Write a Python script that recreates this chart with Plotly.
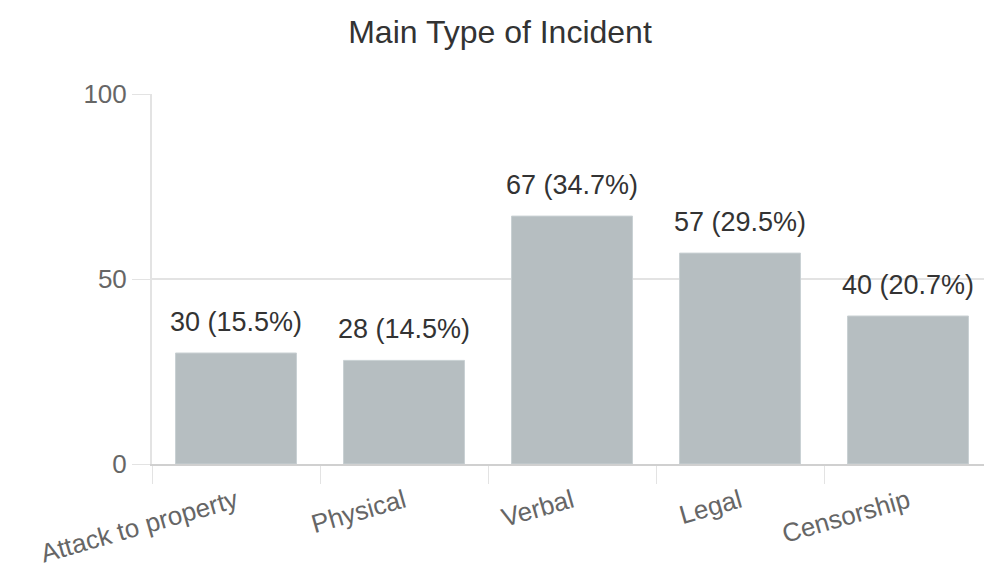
import plotly.graph_objects as go

categories = ["Attack to property", "Physical", "Verbal", "Legal", "Censorship"]
counts = [30, 28, 67, 57, 40]
percents = [15.5, 14.5, 34.7, 29.5, 20.7]

FONT = "Liberation Sans, Arial, sans-serif"

fig = go.Figure()
fig.add_trace(
    go.Bar(
        x=categories,
        y=counts,
        width=0.72,
        marker=dict(color="#b6bec1", line=dict(color="#c9d0d3", width=1)),
        hoverinfo="skip",
    )
)

# value labels above bars
for cat, n, p in zip(categories, counts, percents):
    fig.add_annotation(
        x=cat,
        y=n,
        text=f"{n} ({p}%)",
        showarrow=False,
        yanchor="bottom",
        yshift=14,
        font=dict(size=27, color="#333333", family=FONT),
    )

# page body has an 8px margin, so figure is a bit smaller than the window
fig.update_layout(
    width=984,
    height=563,
    margin=dict(l=144, r=0, t=86, b=107),
    paper_bgcolor="white",
    plot_bgcolor="white",
    showlegend=False,
    font=dict(family=FONT, color="#666666"),
    title=dict(
        text="Main Type of Incident",
        x=0.5,
        xanchor="center",
        y=0.957,
        yanchor="middle",
        font=dict(size=32, color="#333333", family=FONT),
    ),
    bargap=0.28,
)

fig.update_xaxes(
    type="category",
    tickangle=-16,
    tickfont=dict(size=26, color="#666666"),
    ticks="outside",
    tickson="boundaries",
    ticklen=18,
    tickcolor="#e3e3e3",
    ticklabelstandoff=10,
    showline=True,
    linecolor="#d0d0d0",
    linewidth=2,
    showgrid=False,
)

fig.update_yaxes(
    range=[0, 100],
    dtick=50,
    tickfont=dict(size=26, color="#666666"),
    ticks="outside",
    ticklen=18,
    tickcolor="#e3e3e3",
    showline=True,
    linecolor="#e3e3e3",
    linewidth=2,
    showgrid=True,
    gridcolor="#e3e3e3",
    gridwidth=2,
    zeroline=False,
)

fig.write_html("out.html")
